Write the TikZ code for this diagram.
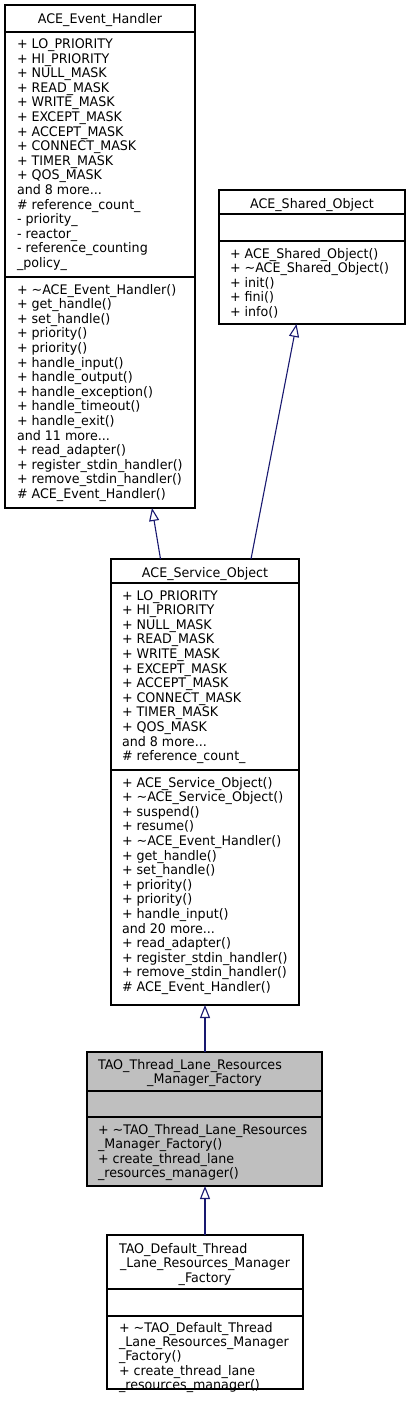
\documentclass[tikz,border=0pt]{standalone}
\usepackage{fontspec}
\setmainfont[FakeStretch=0.96]{DejaVu Sans}
\usetikzlibrary{arrows.meta}
\definecolor{edgeblue}{HTML}{191970}
\definecolor{taogray}{HTML}{BFBFBF}
\tikzset{
  umlbox/.style={draw=black, line width=1.1pt, inner sep=0pt, outer sep=0pt},
  txt/.style={font=\fontsize{13.2}{14.6}\selectfont, inner sep=0pt, outer sep=0pt},
  inh/.style={draw=edgeblue, line width=1.1pt, -{Triangle[open, length=13pt, width=10pt]}},
  sep/.style={draw=black, line width=1.1pt}
}
\newcommand\tdots{...}
\newcommand\mlines[5]{%
  \foreach \t [count=\i from 0] in {#5}{
    \node[txt, anchor=base west] (#1\i) at (#2, #3+\i*#4) {\t};
  }}
\begin{document}
\begin{tikzpicture}[x=1pt, y=-1pt]
\useasboundingbox[fill=white] (0,0) rectangle (409,1405);

% ACE_Event_Handler
\node[umlbox, minimum width=190pt, minimum height=503pt] (evh) at (100,256.5) {};
\draw[sep] ([yshift=-27pt]evh.north west) -- ([yshift=-27pt]evh.north east);
\draw[sep] ([yshift=-272pt]evh.north west) -- ([yshift=-272pt]evh.north east);
\node[txt, anchor=base] (evht) at (100,24) {ACE\_Event\_Handler};
\mlines{evha}{17}{48.5}{14.6}{+ LO\_PRIORITY, + HI\_PRIORITY, + NULL\_MASK, + READ\_MASK, + WRITE\_MASK, + EXCEPT\_MASK, + ACCEPT\_MASK, + CONNECT\_MASK, + TIMER\_MASK, + QOS\_MASK, and 8 more\tdots, \# reference\_count\_, - priority\_, - reactor\_, - reference\_counting, \_policy\_}
\mlines{evhm}{17}{294}{14.6}{+ \textasciitilde ACE\_Event\_Handler(), + get\_handle(), + set\_handle(), + priority(), + priority(), + handle\_input(), + handle\_output(), + handle\_exception(), + handle\_timeout(), + handle\_exit(), and 11 more\tdots, + read\_adapter(), + register\_stdin\_handler(), + remove\_stdin\_handler(), \# ACE\_Event\_Handler()}

% ACE_Shared_Object
\node[umlbox, minimum width=186pt, minimum height=134pt] (sho) at (312,257) {};
\draw[sep] ([yshift=-24pt]sho.north west) -- ([yshift=-24pt]sho.north east);
\draw[sep] ([yshift=-51pt]sho.north west) -- ([yshift=-51pt]sho.north east);
\node[txt, anchor=base] (shot) at (312,208.5) {ACE\_Shared\_Object};
\mlines{shom}{230}{258}{14.6}{+ ACE\_Shared\_Object(), + \textasciitilde ACE\_Shared\_Object(), + init(), + fini(), + info()}

% ACE_Service_Object
\node[umlbox, minimum width=188pt, minimum height=446pt] (svc) at (205,782) {};
\draw[sep] ([yshift=-24pt]svc.north west) -- ([yshift=-24pt]svc.north east);
\draw[sep] ([yshift=-211pt]svc.north west) -- ([yshift=-211pt]svc.north east);
\node[txt, anchor=base] (svct) at (205,577.5) {ACE\_Service\_Object};
\mlines{svca}{122}{600}{14.6}{+ LO\_PRIORITY, + HI\_PRIORITY, + NULL\_MASK, + READ\_MASK, + WRITE\_MASK, + EXCEPT\_MASK, + ACCEPT\_MASK, + CONNECT\_MASK, + TIMER\_MASK, + QOS\_MASK, and 8 more\tdots, \# reference\_count\_}
\mlines{svcm}{122}{787}{14.6}{+ ACE\_Service\_Object(), + \textasciitilde ACE\_Service\_Object(), + suspend(), + resume(), + \textasciitilde ACE\_Event\_Handler(), + get\_handle(), + set\_handle(), + priority(), + priority(), + handle\_input(), and 20 more\tdots, + read\_adapter(), + register\_stdin\_handler(), + remove\_stdin\_handler(), \# ACE\_Event\_Handler()}

% TAO_Thread_Lane_Resources_Manager_Factory
\node[umlbox, fill=taogray, minimum width=235pt, minimum height=134pt] (tao) at (204.5,1119) {};
\draw[sep] ([yshift=-39pt]tao.north west) -- ([yshift=-39pt]tao.north east);
\draw[sep] ([yshift=-65pt]tao.north west) -- ([yshift=-65pt]tao.north east);
\node[txt, anchor=base west] (taot1) at (98,1069) {TAO\_Thread\_Lane\_Resources};
\node[txt, anchor=base] (taot2) at (204.5,1083.5) {\_Manager\_Factory};
\mlines{taom}{98}{1134}{14.6}{+ \textasciitilde TAO\_Thread\_Lane\_Resources, \_Manager\_Factory(), + create\_thread\_lane, \_resources\_manager()}

% TAO_Default_Thread_Lane_Resources_Manager_Factory
\node[umlbox, minimum width=196pt, minimum height=154pt] (def) at (205,1312) {};
\draw[sep] ([yshift=-54pt]def.north west) -- ([yshift=-54pt]def.north east);
\draw[sep] ([yshift=-81pt]def.north west) -- ([yshift=-81pt]def.north east);
\node[txt, anchor=base west] (deft1) at (119,1253) {TAO\_Default\_Thread};
\node[txt, anchor=base] (deft2) at (205,1267.5) {\_Lane\_Resources\_Manager};
\node[txt, anchor=base] (deft3) at (205,1282) {\_Factory};
\mlines{defm}{119}{1332.5}{14.2}{+ \textasciitilde TAO\_Default\_Thread, \_Lane\_Resources\_Manager, \_Factory(), + create\_thread\_lane, \_resources\_manager()}

% inheritance edges
\draw[inh] ([xshift=-44.5pt]svc.north) -- ([xshift=52pt]evh.south);
\draw[inh] ([xshift=46pt]svc.north) -- ([xshift=-15.5pt]sho.south);
\draw[inh] ([xshift=0.5pt]tao.north) -- (svc.south);
\draw[inh] (def.north) -- ([xshift=0.5pt]tao.south);
\end{tikzpicture}
\end{document}
